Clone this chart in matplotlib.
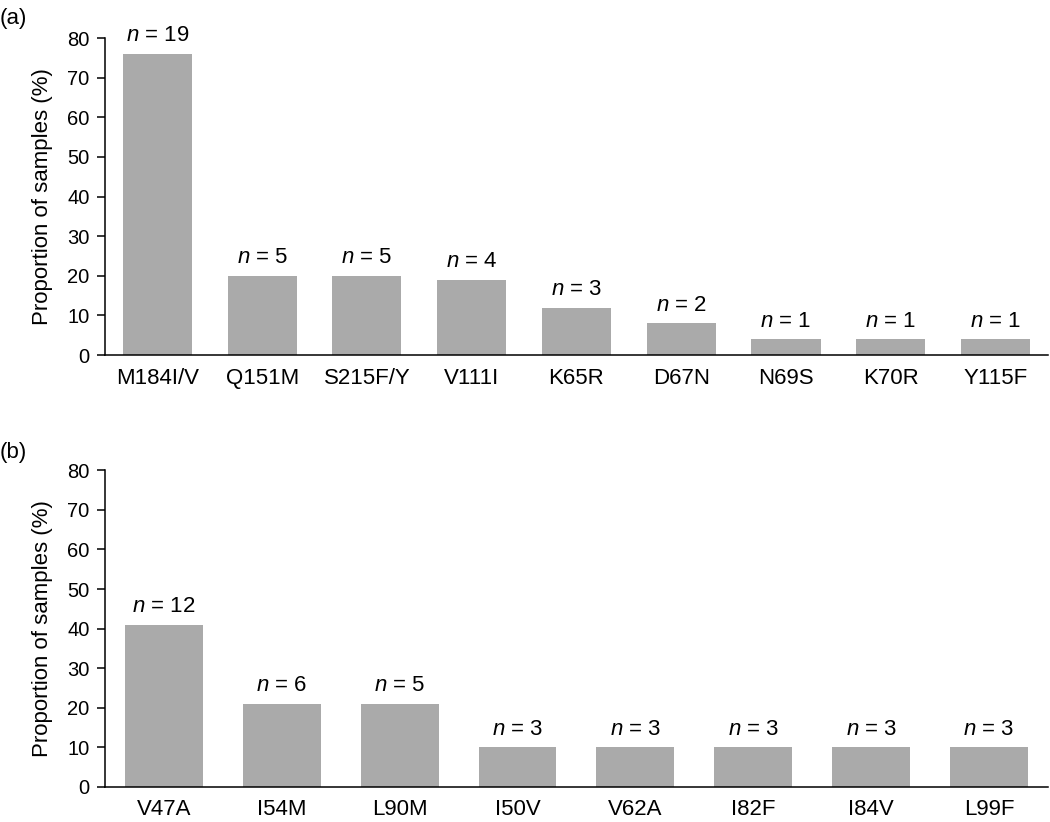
import matplotlib.pyplot as plt
import numpy as np

plt.rcParams['font.family'] = ['Liberation Sans', 'DejaVu Sans']
plt.rcParams['mathtext.fontset'] = 'custom'
plt.rcParams['mathtext.it'] = 'Liberation Sans:italic'
plt.rcParams['mathtext.rm'] = 'Liberation Sans'

# panel (a)
labels_a = ['M184I/V', 'Q151M', 'S215F/Y', 'V111I', 'K65R', 'D67N', 'N69S', 'K70R', 'Y115F']
pct_a = [76, 20, 20, 19, 12, 8, 4, 4, 4]
n_a = [19, 5, 5, 4, 3, 2, 1, 1, 1]

# panel (b)
labels_b = ['V47A', 'I54M', 'L90M', 'I50V', 'V62A', 'I82F', 'I84V', 'L99F']
pct_b = [41, 21, 21, 10, 10, 10, 10, 10]
n_b = [12, 6, 5, 3, 3, 3, 3, 3]

fs = 16
fs_tick = 14.5
bar_color = '#aaaaaa'

fig = plt.figure(figsize=(10.5, 8.22), dpi=100)
ax_a = fig.add_axes([0.1, 0.568, 0.898, 0.3857])
ax_b = fig.add_axes([0.1, 0.0426, 0.898, 0.3853])


def draw_panel(ax, labels, pct, counts):
    x = np.arange(len(labels))
    ax.bar(x, pct, width=0.66, color=bar_color)
    for xi, p, n in zip(x, pct, counts):
        ax.annotate(f'$n$ = {n}', (xi, p), xytext=(0, 9), textcoords='offset points',
                    ha='center', va='baseline', fontsize=fs)
    ax.set_xlim(-0.5, len(labels) - 0.5)
    ax.set_ylim(0, 80)
    ax.set_yticks(range(0, 81, 10))
    ax.set_xticks(x)
    ax.set_xticklabels(labels)
    ax.tick_params(axis='x', length=0, pad=9, labelsize=fs)
    ax.tick_params(axis='y', length=6, width=1.1, pad=5, labelsize=fs_tick)
    for s in ['top', 'right']:
        ax.spines[s].set_visible(False)
    for s in ['left', 'bottom']:
        ax.spines[s].set_linewidth(1.1)
    ax.set_ylabel('Proportion of samples (%)', fontsize=fs, labelpad=10)


draw_panel(ax_a, labels_a, pct_a, n_a)
draw_panel(ax_b, labels_b, pct_b, n_b)

fig.text(0.0, 0.99, '(a)', fontsize=fs, ha='left', va='top')
fig.text(0.0, 0.462, '(b)', fontsize=fs, ha='left', va='top')

fig.savefig('out.png', dpi=100)
